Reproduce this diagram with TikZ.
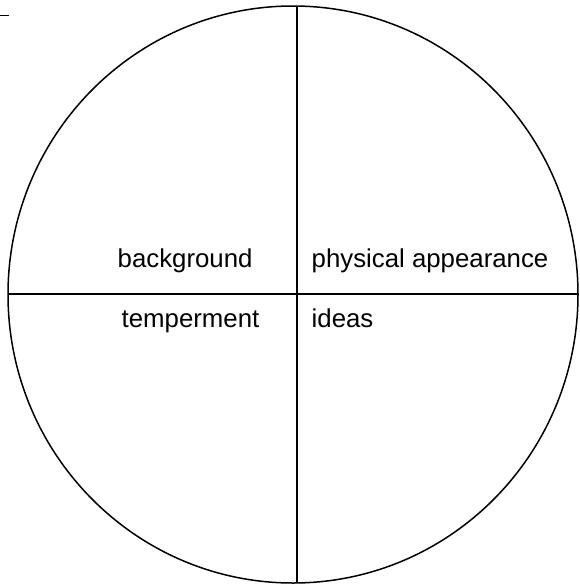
\documentclass[tikz,border=0pt]{standalone}
\usepackage{fontspec}
\setmainfont{Liberation Sans}
\begin{document}
\begin{tikzpicture}[x=1pt,y=-1pt,
  ln/.style={line width=1.5pt,black},
  lbl/.style={anchor=base west,inner sep=0pt,font=\fontsize{25.8}{30}\selectfont}]
\useasboundingbox (0,0) rectangle (579,584);
\draw[ln] (293,294.5) ellipse [x radius=285, y radius=288.5];
\draw[ln] (8,294) -- (578,294);
\draw[ln] (297,6) -- (297,583);
\draw[ln] (0,15.5) -- (8.5,15.5);
\node[lbl] (bg) at (117.5,267) {background};
\node[lbl] (pa) at (311.5,267) {physical appearance};
\node[lbl] (tm) at (121.5,327) {temperment};
\node[lbl] (id) at (311.5,327) {ideas};
\end{tikzpicture}
\end{document}
